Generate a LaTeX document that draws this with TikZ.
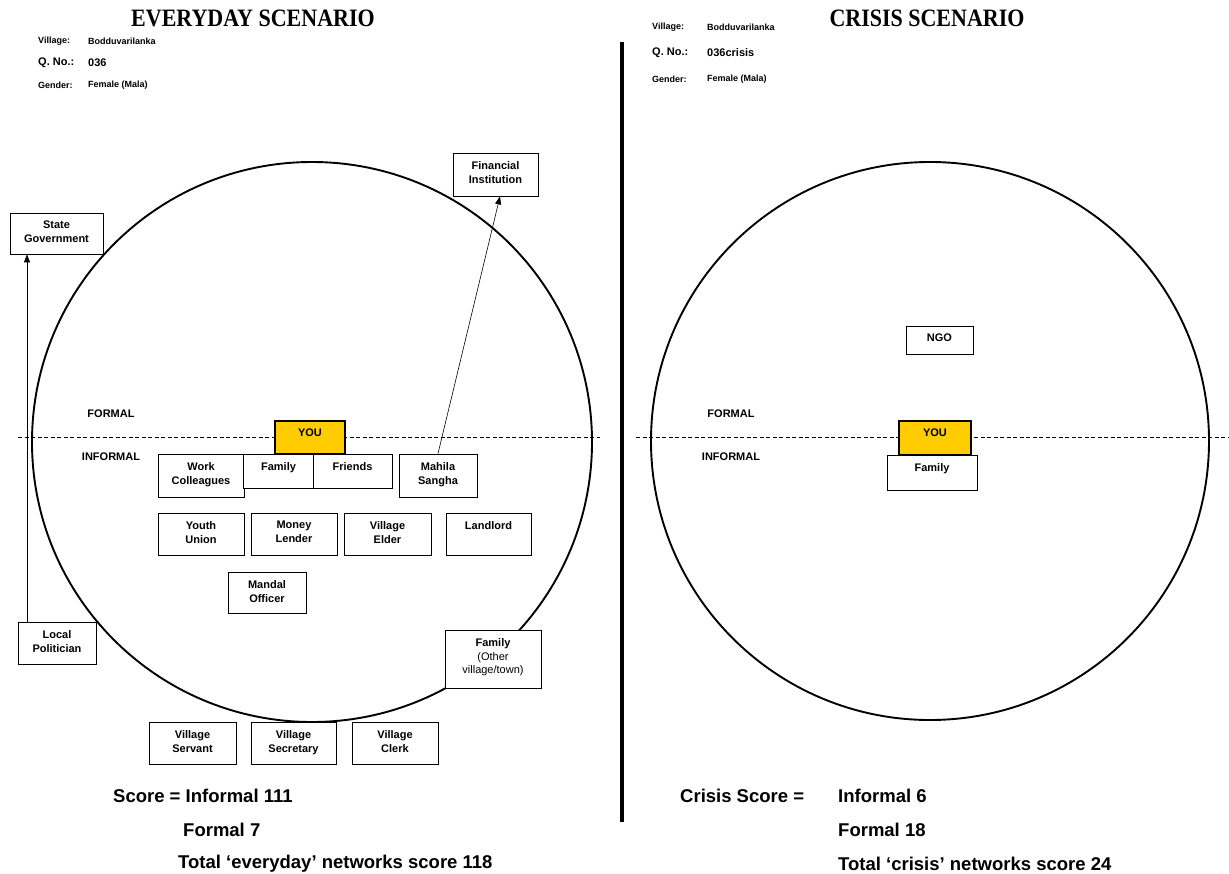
\documentclass[tikz,border=0pt]{standalone}
\usepackage{fontspec}
\setmainfont{Liberation Sans}
\newfontfamily\titlefont{Liberation Serif}
\usetikzlibrary{fit,arrows.meta}
\definecolor{youfill}{HTML}{FFCC00}
\newcommand\bx[7][box]{%
  \coordinate (#2-a) at (#3,#4);
  \coordinate (#2-b) at (#5,#6);
  \node[#1, fit=(#2-a)(#2-b)] (#2) {};
  \node[bt] (#2-t) at ([yshift=-7.5pt]#2.north) {#7};}
\begin{document}
\begin{tikzpicture}[x=1pt,y=-1pt,
  box/.style={draw, fill=white, line width=0.8pt, inner sep=0pt},
  youbox/.style={draw, line width=1.8pt, fill=youfill, inner sep=0pt},
  bt/.style={font=\bfseries\fontsize{11}{13.8}\selectfont, align=center, anchor=north, inner sep=1pt},
  hd/.style={font=\bfseries\fontsize{9}{10}\selectfont, anchor=west, inner sep=0pt},
  hdq/.style={font=\bfseries\fontsize{11}{12}\selectfont, anchor=west, inner sep=0pt},
  sc/.style={font=\bfseries\fontsize{18.5}{20}\selectfont, anchor=west, inner sep=0pt},
  ttl/.style={font=\titlefont\bfseries\fontsize{25}{27}\selectfont, inner sep=0pt},
  lab/.style={font=\bfseries\fontsize{11}{12}\selectfont, inner sep=0pt},
  conn/.style={-{Triangle[length=8pt,width=6pt]}, line width=0.6pt},
  ring/.style={line width=1.9pt},
  split/.style={line width=0.6pt, dash pattern=on 4pt off 2.5pt}
]
\useasboundingbox[fill=white] (0,0) rectangle (1229,874);

% titles
\node[ttl] (t1) at (253,18) {\scalebox{0.88}[1]{EVERYDAY SCENARIO}};
\node[ttl] (t2) at (927,18) {\scalebox{0.88}[1]{CRISIS SCENARIO}};

% headers left
\node[hd]  (hl1) at (38,41) {Village:};
\node[hd]  (hv1) at (88,41) {Bodduvarilanka};
\node[hdq] (hl2) at (38,63) {Q. No.:};
\node[hdq] (hv2) at (88,63) {036};
\node[hd]  (hl3) at (38,85) {Gender:};
\node[hd]  (hv3) at (88,85) {Female (Mala)};
% headers right
\node[hd]  (hr1) at (652,27) {Village:};
\node[hd]  (hw1) at (707,27) {Bodduvarilanka};
\node[hdq] (hr2) at (652,53) {Q. No.:};
\node[hdq] (hw2) at (707,53) {036crisis};
\node[hd]  (hr3) at (652,79) {Gender:};
\node[hd]  (hw3) at (707,79) {Female (Mala)};

% separator bar
\coordinate (barT) at (622,42);
\coordinate (barB) at (622,822);
\draw[line width=4.5pt] (barT) -- (barB);

% rings
\draw[ring] (312,442) circle [radius=280pt];
\draw[ring] (930,441) circle [radius=279pt];

% dashed formal/informal split
\coordinate (dl1) at (18,437); \coordinate (dl2) at (600,437);
\coordinate (dr1) at (636,437); \coordinate (dr2) at (1229,437);
\draw[split] (dl1) -- (dl2);
\draw[split] (dr1) -- (dr2);

\node[lab] (fl) at (111,414) {FORMAL};
\node[lab] (il) at (111,457) {INFORMAL};
\node[lab] (fr) at (731,414) {FORMAL};
\node[lab] (ir) at (731,457) {INFORMAL};

% left boxes
\bx{wc}{158}{454}{244}{497}{Work\\Colleagues}
\bx{fam}{243}{454}{314}{488}{Family}
\bx{fr}{313}{454}{392}{488}{Friends}
\bx{ms}{399}{454}{477}{497}{Mahila\\Sangha}
\bx[youbox]{you}{275}{421}{345}{454}{YOU}
\bx{yu}{158}{513}{244}{555}{Youth\\Union}
\bx{ml}{251}{513}{337}{555}{Money\\Lender}
\bx{ve}{344}{513}{431}{555}{Village\\Elder}
\bx{ll}{446}{513}{531}{555}{Landlord}
\bx{mo}{228}{572}{306}{613}{Mandal\\Officer}
\bx{sg}{10}{213}{103}{254}{State\\Government}
\bx{fi}{453}{153}{538}{196}{Financial\\Institution}
\bx{lp}{18}{622}{96}{664}{Local\\Politician}
\bx{fo}{445}{630}{541}{688}{Family\\{\mdseries (Other}\\{\mdseries village/town)}}
\bx{vs}{149}{722}{236}{764}{Village\\Servant}
\bx{vsec}{251}{722}{336}{764}{Village\\Secretary}
\bx{vc}{352}{722}{438}{764}{Village\\Clerk}

% right boxes
\bx{ngo}{906}{326}{973}{354}{NGO}
\bx{famr}{887}{455}{977}{490}{Family}
\bx[youbox]{youR}{899}{421}{971}{455}{YOU}

% connectors
\coordinate (ax) at (27,0);
\coordinate (bx1) at (438,0);
\coordinate (bx2) at (500,0);
\draw[conn] (ax |- lp.north) -- (ax |- sg.south);
\draw[conn] (bx1 |- ms.north) -- (bx2 |- fi.south);

% scores
\node[sc] (s1) at (113,796) {Score = Informal 111};
\node[sc] (s2) at (183,830) {Formal 7};
\node[sc] (s3) at (178,864) {Total ‘everyday’ networks score 118};
\node[sc] (c0) at (680,796) {Crisis Score =};
\node[sc] (c1) at (838,796) {Informal 6};
\node[sc] (c2) at (838,830) {Formal 18};
\node[sc] (c3) at (838,864) {Total ‘crisis’ networks score 24};
\end{tikzpicture}
\end{document}
